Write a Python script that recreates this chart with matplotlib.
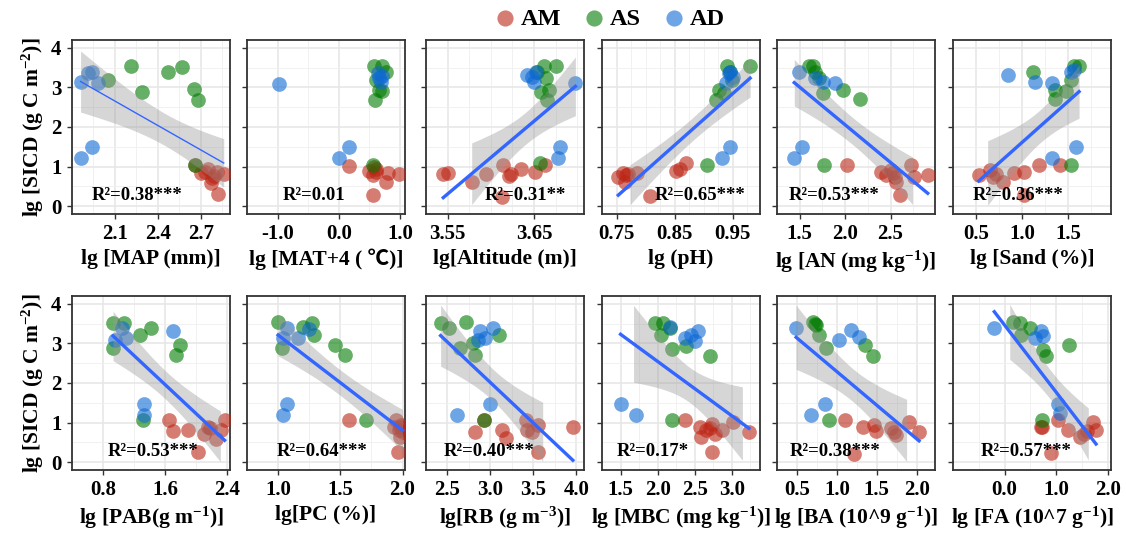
import numpy as np
import matplotlib
matplotlib.use("Agg")
import matplotlib.pyplot as plt

plt.rcParams['font.family'] = ['Liberation Serif', 'Noto Sans CJK SC', 'DejaVu Sans']
plt.rcParams['font.weight'] = 'bold'
plt.rcParams['mathtext.fontset'] = 'custom'
plt.rcParams['mathtext.rm'] = 'Liberation Serif:bold'
plt.rcParams['mathtext.bf'] = 'Liberation Serif:bold'
plt.rcParams['mathtext.default'] = 'regular'
plt.rcParams['axes.unicode_minus'] = False

groups = ['AM', 'AS', 'AD']
colors = {'AM': '#BC2616', 'AS': '#007A00', 'AD': '#0D69D5'}

# (x, y) pairs, y = lg SICD
map_am = [(2.66, 1.04), (2.70, 0.83), (2.75, 0.95), (2.78, 0.70), (2.77, 0.59), (2.82, 0.30),
          (2.81, 0.87), (2.86, 0.80), (2.79, 0.75), (2.73, 0.85)]
map_as = [(2.05, 3.20), (2.21, 3.53), (2.29, 2.88), (2.47, 3.40), (2.57, 3.51), (2.65, 2.95),
          (2.68, 2.68), (2.66, 1.04)]
map_ad = [(1.86, 3.15), (1.91, 3.36), (1.94, 3.38), (1.98, 3.10), (1.86, 1.21), (1.94, 1.49)]

mat_am = [(0.16, 1.01), (0.50, 0.89), (0.57, 1.00), (0.55, 0.78), (0.61, 0.87), (0.55, 0.28),
          (0.77, 0.62), (0.80, 0.83), (0.98, 0.81), (0.60, 0.95)]
mat_as = [(0.57, 3.53), (0.70, 3.53), (0.77, 3.40), (0.61, 3.19), (0.70, 2.90), (0.59, 2.68),
          (0.66, 2.94), (0.55, 1.04)]
mat_ad = [(-0.98, 3.09), (0.00, 1.21), (0.16, 1.49), (0.64, 3.36), (0.66, 3.23), (0.68, 3.15),
          (0.70, 3.30)]

alt_am = [(3.545, 0.81), (3.551, 0.83), (3.578, 0.62), (3.594, 0.81), (3.614, 1.04), (3.621, 0.76),
          (3.624, 0.80), (3.613, 0.24), (3.635, 0.95), (3.651, 0.87), (3.663, 1.04)]
alt_as = [(3.657, 1.08), (3.662, 3.53), (3.676, 3.53), (3.664, 3.23), (3.658, 2.89), (3.668, 2.94),
          (3.665, 2.68), (3.653, 3.40)]
alt_ad = [(3.642, 3.32), (3.648, 3.27), (3.650, 3.15), (3.652, 3.40), (3.698, 3.10), (3.678, 1.21),
          (3.680, 1.49)]

ph_am = [(0.753, 0.74), (0.761, 0.83), (0.767, 0.78), (0.764, 0.62), (0.786, 0.83), (0.852, 0.89),
         (0.860, 0.95), (0.869, 1.08), (0.808, 0.26), (0.770, 0.80)]
ph_as = [(0.906, 1.04), (0.980, 3.53), (0.941, 3.53), (0.946, 3.40), (0.949, 3.19), (0.927, 2.94),
         (0.922, 2.68), (0.935, 2.85)]
ph_ad = [(0.932, 1.21), (0.946, 1.49), (0.938, 3.10), (0.946, 3.40), (0.950, 3.27), (0.943, 3.36)]

an_am = [(2.02, 1.04), (2.40, 0.87), (2.45, 0.78), (2.53, 0.83), (2.55, 0.74), (2.56, 0.62),
         (2.60, 0.28), (2.73, 1.04), (2.76, 0.74), (2.91, 0.78), (2.50, 0.90)]
an_as = [(1.60, 3.54), (1.65, 3.53), (1.67, 3.40), (1.71, 3.23), (1.76, 2.85), (1.975, 2.94),
         (2.16, 2.70), (1.77, 1.04)]
an_ad = [(1.44, 1.21), (1.53, 1.49), (1.49, 3.38), (1.67, 3.23), (1.76, 3.15), (1.89, 3.12)]

sand_am = [(0.53, 0.78), (0.65, 0.91), (0.69, 0.74), (0.79, 0.62), (0.91, 0.83), (1.02, 0.87),
           (1.02, 0.28), (1.19, 1.04), (1.41, 1.04), (0.72, 0.80)]
sand_as = [(1.12, 3.40), (1.57, 3.53), (1.62, 3.53), (1.53, 3.19), (1.48, 2.90), (1.36, 2.94),
           (1.36, 2.70), (1.53, 1.04)]
sand_ad = [(0.85, 3.32), (1.14, 3.15), (1.33, 3.12), (1.53, 3.40), (1.57, 3.44), (1.33, 1.21),
           (1.59, 1.49)]

pab_am = [(1.65, 1.06), (1.70, 0.78), (1.90, 0.81), (2.03, 0.25), (2.10, 0.72), (2.15, 0.89),
          (2.26, 0.59), (2.33, 0.81), (2.37, 1.06), (2.18, 0.85)]
pab_as = [(0.93, 3.52), (1.07, 3.52), (0.93, 2.88), (1.28, 3.22), (1.42, 3.39), (1.80, 2.97),
          (1.74, 2.71), (1.32, 1.06)]
pab_ad = [(0.95, 3.09), (1.05, 3.39), (1.10, 3.14), (1.71, 3.31), (1.33, 1.48), (1.33, 1.19)]

pc_am = [(1.57, 1.06), (1.93, 0.89), (1.95, 1.06), (1.96, 0.25), (1.97, 0.81), (1.98, 0.64),
         (2.00, 0.76), (1.98, 0.89), (1.99, 0.95)]
pc_as = [(1.00, 3.53), (1.03, 2.88), (1.20, 3.41), (1.27, 3.52), (1.29, 3.22), (1.46, 2.97),
         (1.54, 2.71), (1.71, 1.06)]
pc_ad = [(1.07, 3.39), (1.04, 3.14), (1.16, 3.14), (1.25, 3.36), (1.04, 1.19), (1.07, 1.47)]

rb_am = [(2.82, 0.76), (3.13, 0.81), (3.18, 0.62), (3.41, 1.06), (3.43, 0.81), (3.48, 0.76),
         (3.56, 0.93), (3.55, 0.25), (3.96, 0.89), (2.92, 1.06)]
rb_as = [(2.42, 3.52), (2.52, 3.39), (2.72, 3.53), (2.65, 2.88), (2.80, 3.00), (2.82, 2.71),
         (3.10, 3.22), (2.92, 1.06)]
rb_ad = [(2.61, 1.19), (2.99, 1.47), (2.88, 3.31), (2.94, 3.14), (3.03, 3.39), (2.86, 3.09)]

mbc_am = [(2.37, 1.06), (2.57, 0.89), (2.58, 0.64), (2.65, 0.81), (2.71, 0.85), (2.73, 0.97),
          (2.78, 0.70), (2.73, 0.25), (2.87, 0.81), (3.02, 1.02), (3.23, 0.76)]
mbc_as = [(1.96, 3.52), (2.07, 3.52), (2.05, 3.22), (2.16, 3.39), (2.20, 2.86), (2.38, 2.94),
          (2.71, 2.69), (2.20, 1.06)]
mbc_ad = [(1.50, 1.48), (1.71, 1.19), (2.37, 3.14), (2.45, 3.22), (2.50, 3.07), (2.54, 3.31),
          (2.16, 3.41)]

ba_am = [(1.10, 1.06), (1.33, 0.89), (1.47, 0.93), (1.49, 0.79), (1.68, 0.85), (1.74, 0.68),
         (1.72, 0.76), (1.91, 1.02), (2.03, 0.76), (1.22, 0.21)]
ba_as = [(0.70, 3.53), (0.74, 3.47), (0.72, 3.50), (0.78, 3.22), (0.87, 2.88), (1.35, 2.97),
         (1.45, 2.69), (0.90, 1.06)]
ba_ad = [(0.49, 3.39), (0.68, 1.19), (0.85, 1.48), (1.03, 3.09), (1.18, 3.33), (1.28, 3.16)]

fa_am = [(0.72, 0.89), (1.04, 1.06), (1.22, 0.81), (1.45, 0.64), (1.54, 0.72), (1.59, 0.79),
         (1.71, 1.02), (1.77, 0.81), (0.90, 0.23), (0.70, 0.88)]
fa_as = [(0.17, 3.53), (0.29, 3.52), (0.32, 3.22), (0.49, 3.39), (0.75, 2.84), (0.81, 2.69),
         (1.25, 2.97), (0.72, 1.06)]
fa_ad = [(-0.20, 3.39), (0.58, 3.14), (0.70, 3.31), (0.75, 3.18), (1.04, 1.48), (1.07, 1.23)]

r2_labels = ['R²=0.38***', 'R²=0.01', 'R²=0.31**', 'R²=0.65***', 'R²=0.53***', 'R²=0.36***',
             'R²=0.53***', 'R²=0.64***', 'R²=0.40***', 'R²=0.17*', 'R²=0.38***', 'R²=0.57***']

x_labels = ['lg [MAP (mm)]', 'lg [MAT+4 ( \u2103)]', 'lg[Altitude (m)]', 'lg (pH)',
            r'lg [AN (mg kg$^{-1}$)]', 'lg [Sand (%)]',
            r'lg [PAB(g m$^{-1}$)]', 'lg[PC (%)]', r'lg[RB (g m$^{-3}$)]',
            r'lg [MBC (mg kg$^{-1}$)]', r'lg [BA (10^9 g$^{-1}$)]', r'lg [FA (10^7 g$^{-1}$)]']

panel_data = [(map_am, map_as, map_ad), (mat_am, mat_as, mat_ad), (alt_am, alt_as, alt_ad),
              (ph_am, ph_as, ph_ad), (an_am, an_as, an_ad), (sand_am, sand_as, sand_ad),
              (pab_am, pab_as, pab_ad), (pc_am, pc_as, pc_ad), (rb_am, rb_as, rb_ad),
              (mbc_am, mbc_as, mbc_ad), (ba_am, ba_as, ba_ad), (fa_am, fa_as, fa_ad)]

# axis layout per panel: xlim, major ticks, tick labels, minor grid step
layout = [
    ((1.805, 2.904), [2.1, 2.4, 2.7], ['2.1', '2.4', '2.7'], 0.15),
    ((-1.10, 1.08), [-1.0, 0.0, 1.0], ['-1.0', '0.0', '1.0'], 0.5),
    ((3.537, 3.708), [3.55, 3.65], ['3.55', '3.65'], 0.025),
    ((0.737, 0.997), [0.75, 0.85, 0.95], ['0.75', '0.85', '0.95'], 0.025),
    ((1.28, 2.99), [1.5, 2.0, 2.5], ['1.5', '2.0', '2.5'], 0.25),
    ((0.306, 1.967), [0.5, 1.0, 1.5], ['0.5', '1.0', '1.5'], 0.25),
    ((0.76, 2.44), [0.8, 1.6, 2.4], ['0.8', '1.6', '2.4'], 0.4),
    ((0.93, 2.02), [1.0, 1.5, 2.0], ['1.0', '1.5', '2.0'], 0.25),
    ((2.30, 4.09), [2.5, 3.0, 3.5, 4.0], ['2.5', '3.0', '3.5', '4.0'], 0.25),
    ((1.31, 3.38), [1.5, 2.0, 2.5, 3.0], ['1.5', '2.0', '2.5', '3.0'], 0.25),
    ((0.275, 2.23), [0.5, 1.0, 1.5, 2.0], ['0.5', '1.0', '1.5', '2.0'], 0.25),
    ((-0.64, 2.06), [0.0, 1.0, 2.0], ['0.0', '1.0', '2.0'], 0.5),
]
r2_xfrac = [0.41, 0.32, 0.60, 0.60, 0.35, 0.39, 0.41, 0.39, 0.38, 0.30, 0.36, 0.39]
fit_lw = [1.0, 0, 2.4, 2.4, 2.4, 2.4, 2.4, 2.4, 2.4, 2.4, 2.4, 2.4]


def fit_band(xs, ys, t=2.07, n_pts=80):
    xs = np.asarray(xs)
    ys = np.asarray(ys)
    b, a = np.polyfit(xs, ys, 1)
    grid = np.linspace(xs.min(), xs.max(), n_pts)
    fit = a + b * grid
    n = len(xs)
    s = np.sqrt(np.sum((ys - (a + b * xs)) ** 2) / (n - 2))
    se = s * np.sqrt(1.0 / n + (grid - xs.mean()) ** 2 / np.sum((xs - xs.mean()) ** 2))
    return grid, fit, fit - t * se, fit + t * se


W, H = 1126, 534
fig = plt.figure(figsize=(W / 100, H / 100), dpi=100)
col_left = [72, 247, 426, 602, 777, 953]
row_top = [40, 296]
pw, ph = 158, 174

legend_handles = []
for i in range(12):
    r, c = divmod(i, 6)
    ax = fig.add_axes([col_left[c] / W, 1 - (row_top[r] + ph) / H, pw / W, ph / H])
    xlim, ticks, tlabels, mstep = layout[i]

    all_x, all_y = [], []
    for g, pts in zip(groups, panel_data[i]):
        xs = [p[0] for p in pts]
        ys = [p[1] for p in pts]
        all_x += xs
        all_y += ys
        h = ax.scatter(xs, ys, s=112, color=colors[g], alpha=0.6, linewidths=0, zorder=3, label=g)
        if i == 0:
            legend_handles.append(h)

    if fit_lw[i] > 0:
        grid, fit, lo, hi = fit_band(all_x, all_y)
        ok = (lo >= 0) & (hi <= 4)
        ax.fill_between(grid, lo, hi, where=ok, color='#999999', alpha=0.4, lw=0, zorder=4)
        inside = (fit >= 0) & (fit <= 4)
        ax.plot(grid[inside], fit[inside], color='#3366FF', lw=fit_lw[i], zorder=5)

    ax.text(xlim[0] + r2_xfrac[i] * (xlim[1] - xlim[0]), 0.28, r2_labels[i],
            ha='center', va='center', fontsize=13.5, fontweight='bold', zorder=6)

    ax.set_xlim(xlim)
    ax.set_ylim(-0.2, 4.2)
    ax.set_xticks(ticks)
    ax.set_xticklabels(tlabels)
    minor = np.arange(np.floor(xlim[0] / mstep) * mstep, xlim[1] + 1e-9, mstep)
    ax.set_xticks(minor, minor=True)
    ax.set_yticks([0, 1, 2, 3, 4])
    ax.set_yticks([0.5, 1.5, 2.5, 3.5], minor=True)
    ax.grid(which='major', color='#E6E6E6', lw=1.1, zorder=0)
    ax.grid(which='minor', color='#EFEFEF', lw=0.6, zorder=0)
    ax.set_axisbelow(True)
    ax.tick_params(which='major', length=3.5, width=1, color='#333333', labelsize=15, pad=4)
    ax.tick_params(which='minor', length=0)
    for sp in ax.spines.values():
        sp.set_color('#333333')
        sp.set_linewidth(1.3)
    ax.set_xlabel(x_labels[i], fontsize=15.5, fontweight='bold', labelpad=3)
    if c == 0:
        ax.set_ylabel(r'lg [SICD (g C m$^{-2}$)]', fontsize=15.5, fontweight='bold', labelpad=4)
    else:
        ax.set_yticklabels([])

fig.legend(legend_handles, groups, loc='center', bbox_to_anchor=(0.54, 0.965), ncol=3,
           frameon=False, fontsize=17.5, handletextpad=0.1, columnspacing=0.8,
           borderaxespad=0, handlelength=1.1, markerscale=1.1)

fig.savefig('out.png', dpi=100)
